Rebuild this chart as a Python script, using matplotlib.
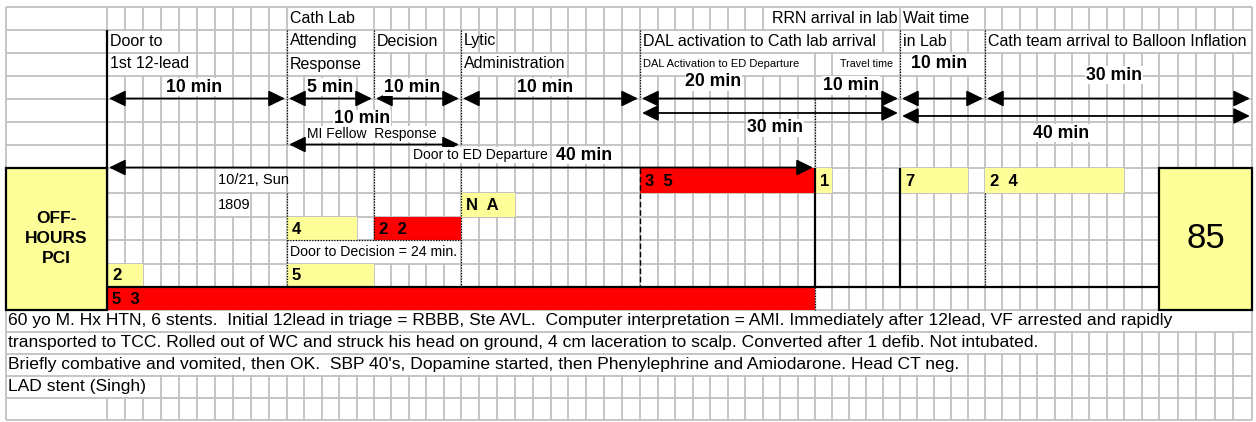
import numpy as np
import matplotlib.pyplot as plt
from matplotlib.patches import Rectangle

plt.rcParams['font.family'] = ['Liberation Sans', 'DejaVu Sans']

# sheet layout: column index -> pixel edge (col -1 is the wide first column)
sec_cols = [-1, 0, 10, 15, 20, 30, 40, 45, 50, 60, 65]
sec_px = [6, 107, 287, 374, 461, 640, 815, 900, 985, 1159, 1252]
row_px = [7, 29.5, 52.5, 75.5, 98.5, 121.5, 144.5, 167.5, 193, 216.5, 240,
          263.5, 286.5, 309.5, 332, 354, 376, 398, 420]

# header cells: text, row, first col, last col, align, size
hdr_text = ['Cath Lab', 'RRN arrival in lab', 'Wait time',
            'Door to', 'Attending', 'Decision', 'Lytic',
            'DAL activation to Cath lab arrival', 'in Lab',
            'Cath team arrival to Balloon Inflation',
            '1st 12-lead', 'Response', 'Administration',
            'DAL Activation to ED Departure', 'Travel time']
hdr_row = [0, 0, 0, 1, 1, 1, 1, 1, 1, 1, 2, 2, 2, 2, 2]
hdr_span = [(10, 15), (37, 45), (45, 50), (0, 4), (10, 15), (15, 19), (20, 21),
            (30, 44), (45, 48), (50, 65), (0, 5), (10, 15), (20, 26),
            (30, 40), (41, 45)]
hdr_align = ['left', 'right', 'left', 'left', 'left', 'left', 'left', 'left',
             'left', 'left', 'left', 'left', 'left', 'left', 'center']
hdr_size = [11.5] * 13 + [8, 7.7]

# interval labels (minutes) and where they sit (col, row)
min_labels = ['10 min', '5 min', '10 min', '10 min', '20 min', '10 min',
              '10 min', '30 min', '10 min', '30 min', '40 min']
min_pos = [(4.85, 3.5), (12.5, 3.5), (17.2, 3.5), (24.7, 3.5), (34.2, 3.28),
           (42.1, 3.45), (47.3, 2.5), (57.4, 2.98), (14.3, 4.89),
           (37.7, 5.28), (54.4, 5.5)]

# double arrows: first col, last col, row line
arrows = [(0, 10, 4.0), (10, 15, 4.0), (15, 20, 4.0), (20, 30, 4.0),
          (30, 45, 4.0), (45, 50, 4.0), (50, 65, 4.0), (30, 45, 4.63),
          (45, 65, 4.76), (10, 20, 6.0), (0, 40, 7.0)]

# coloured cells: label, row, first col, last col, colour
cell_label = ['3 5', '1', '7', '2 4', 'N A', '4', '2 2', '2', '5', '5 3']
cell_row = [7, 7, 7, 7, 8, 9, 9, 11, 11, 12]
cell_span = [(30, 40), (40, 41), (45, 49), (50, 58), (20, 23), (10, 14),
             (15, 20), (0, 2), (10, 15), (0, 40)]
cell_red = [True, False, False, False, False, False, True, False, False, True]

notes = ["60 yo M. Hx HTN, 6 stents.  Initial 12lead in triage = RBBB, Ste AVL.  "
         "Computer interpretation = AMI. Immediately after 12lead, VF arrested and rapidly",
         "transported to TCC. Rolled out of WC and struck his head on ground, 4 cm "
         "laceration to scalp. Converted after 1 defib. Not intubated.",
         "Briefly combative and vomited, then OK.  SBP 40's, Dopamine started, then "
         "Phenylephrine and Amiodarone. Head CT neg.",
         "LAD stent (Singh)"]
notes_end = [65, 54, 49, 3]

score = '85'
YELLOW = '#ffff99'
RED = '#ff0000'
GRID = '#c0c0c0'


def cx(c):
    return np.interp(c, sec_cols, sec_px)


def ry(r):
    return np.interp(r, np.arange(len(row_px)), row_px)


def blank(ax, c0, c1, r, fc='white'):
    ax.add_patch(Rectangle((cx(c0) + 1, ry(r) + 1), cx(c1) - cx(c0) - 2,
                           ry(r + 1) - ry(r) - 2, fc=fc, ec='none', zorder=2))


fig = plt.figure(figsize=(12.56, 4.22), dpi=100)
ax = fig.add_axes([0, 0, 1, 1])
ax.set_xlim(0, 1256)
ax.set_ylim(422, 0)
ax.axis('off')

# grid
nrows = len(row_px) - 1
for r in range(nrows):
    xs = [cx(c) for c in range(0, 66)] + [cx(-1)]
    ax.vlines(xs, ry(r), ry(r + 1), color=GRID, lw=1.3, zorder=1)
ax.hlines(row_px, cx(-1), cx(65), color=GRID, lw=1.3, zorder=1)

# header text
for t, r, (c0, c1), al, fs in zip(hdr_text, hdr_row, hdr_span, hdr_align, hdr_size):
    blank(ax, c0, c1, r)
    if al == 'left':
        x = cx(c0) + 3
    elif al == 'right':
        x = cx(c1) - 3
    else:
        x = (cx(c0) + cx(c1)) / 2
    ax.text(x, (ry(r) + ry(r + 1)) / 2, t, ha=al, va='center', fontsize=fs, zorder=6)
blank(ax, 45, 50, 2)

# interval labels
for t, (c, r) in zip(min_labels, min_pos):
    ax.text(cx(c), ry(r), t, ha='center', va='center', fontsize=12.7,
            fontweight='bold', zorder=7,
            bbox=dict(boxstyle='square,pad=0.05', fc='white', ec='none'))
ax.text(cx(14.9), ry(5.55), 'MI Fellow  Response', ha='center', va='center',
        fontsize=10, zorder=8,
        bbox=dict(boxstyle='square,pad=0.05', fc='white', ec='none'))
ax.text(cx(17.24), ry(6.46), 'Door to ED Departure', ha='left', va='center',
        fontsize=10, zorder=6,
        bbox=dict(boxstyle='square,pad=0.05', fc='white', ec='none'))
ax.text(cx(25.3), ry(6.46), '40 min', ha='left', va='center', fontsize=12.7,
        fontweight='bold', zorder=6,
        bbox=dict(boxstyle='square,pad=0.05', fc='white', ec='none'))

# dotted section dividers
dot = dict(color='k', lw=0.9, ls=(0, (1, 1.2)), zorder=4)
for c, r0, r1 in [(10, 1, 6), (15, 1, 4), (20, 1, 6), (30, 1, 4), (40, 4, 7),
                  (45, 1, 4), (50, 1, 4), (10, 8, 12), (15, 7, 10), (20, 7, 12),
                  (50, 8, 12), (40, 12, 13)]:
    ax.vlines(cx(c), ry(r0), ry(r1), **dot)
ax.vlines(cx(30), ry(7), ry(12), color='k', lw=1.0, ls=(0, (4, 2)), zorder=4)

# row 7-8 notes, decision box
blank(ax, 6, 10, 7)
blank(ax, 6, 8, 8)
ax.text(cx(6) + 3, (ry(7) + ry(8)) / 2, '10/21, Sun', va='center', fontsize=10.5, zorder=6)
ax.text(cx(6) + 3, (ry(8) + ry(9)) / 2, '1809', va='center', fontsize=10.5, zorder=6)
blank(ax, 10, 20, 10)
ax.hlines(ry(10), cx(10), cx(20), **dot)
ax.text(cx(10) + 3, (ry(10) + ry(11)) / 2, 'Door to Decision = 24 min.',
        va='center', fontsize=10.2, zorder=6)

# coloured cells
for t, r, (c0, c1), red in zip(cell_label, cell_row, cell_span, cell_red):
    ax.add_patch(Rectangle((cx(c0), ry(r)), cx(c1) - cx(c0), ry(r + 1) - ry(r),
                           fc=RED if red else YELLOW, ec='none', zorder=3))
    ax.text(cx(c0) + 5, (ry(r) + ry(r + 1)) / 2 + 1, t.replace(' ', '  '),
            va='center', fontsize=12, fontweight='bold', zorder=6)

# solid black structure
ax.vlines(cx(0), ry(1), ry(13), color='k', lw=1.6, zorder=4)
ax.vlines([cx(40), cx(45)], ry(7), ry(12), color='k', lw=1.6, zorder=4)
ax.hlines(ry(12), cx(0), cx(60), color='k', lw=1.6, zorder=4)

# arrows
for c0, c1, r in arrows:
    ax.annotate('', xy=(cx(c1), ry(r)), xytext=(cx(c0), ry(r)),
                arrowprops=dict(arrowstyle='<|-|>,head_length=0.45,head_width=0.22',
                                color='k', lw=1.3, mutation_scale=22,
                                shrinkA=1.5, shrinkB=1.5),
                zorder=5)

# side boxes
ax.add_patch(Rectangle((cx(-1), ry(7)), cx(0) - cx(-1), ry(13) - ry(7),
                       fc=YELLOW, ec='k', lw=1.6, zorder=4))
ax.text((cx(-1) + cx(0)) / 2, (ry(7) + ry(13)) / 2, 'OFF-\nHOURS\nPCI', ha='center',
        va='center', fontsize=12.5, fontweight='bold', linespacing=1.4, zorder=6)
ax.add_patch(Rectangle((cx(60), ry(7)), cx(65) - cx(60), ry(13) - ry(7),
                       fc=YELLOW, ec='k', lw=1.6, zorder=4))
ax.text((cx(60) + cx(65)) / 2, (ry(7) + ry(13)) / 2, score, ha='center',
        va='center', fontsize=25, zorder=6)

# case notes
for i, (t, c1) in enumerate(zip(notes, notes_end)):
    r = 13 + i
    blank(ax, -1, c1, r)
    ax.text(cx(-1) + 2, (ry(r) + ry(r + 1)) / 2, t, va='center', fontsize=12.6, zorder=6)
blank(ax, -1, 0, 17)

fig.savefig('out.png', dpi=100)
plt.close()
